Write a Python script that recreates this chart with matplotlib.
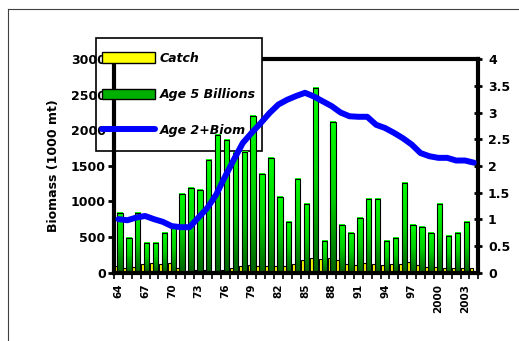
import numpy as np
import matplotlib
matplotlib.use('Agg')
import matplotlib.pyplot as plt
from matplotlib.patches import Patch, Rectangle
from matplotlib.lines import Line2D
from matplotlib.colors import LinearSegmentedColormap


years = list(range(1964, 2005))

catch = [90, 70, 80, 120, 140, 120, 140, 70, 20, 40,
         40, 25, 40, 60, 90, 100, 85, 85, 85, 85,
         120, 170, 200, 185, 200, 170, 120, 100, 140, 120,
         110, 120, 120, 150, 110, 80, 80, 70, 70, 60,
         60]

age5 = [840, 490, 840, 420, 420, 550, 650, 1100, 1190, 1160,
        1580, 1940, 1870, 1680, 1700, 2200, 1390, 1610, 1060, 710,
        1320, 970, 2600, 450, 2120, 670, 550, 770, 1030, 1030,
        450, 480, 1260, 670, 640, 550, 970, 510, 550, 710,
        0]

age2_biom = [1.00, 0.98, 1.03, 1.06, 1.00, 0.95, 0.87, 0.85, 0.85, 1.03,
             1.21, 1.46, 1.80, 2.12, 2.43, 2.62, 2.80, 2.99, 3.15, 3.24,
             3.31, 3.37, 3.30, 3.21, 3.12, 3.00, 2.93, 2.92, 2.92, 2.77,
             2.71, 2.62, 2.52, 2.40, 2.24, 2.18, 2.15, 2.15, 2.10, 2.10,
             2.06]

labels = ['Catch', 'Age 5 Billions', 'Age 2+Biom']

W, H = 519, 341
fig = plt.figure(figsize=(W / 100, H / 100), dpi=100)

# thin frame round the chart area (only left and top edges fall inside the image)
fig.lines.append(Line2D([8 / W, 8 / W], [0, 1 - 9 / H], transform=fig.transFigure,
                        color='#404040', lw=0.8))
fig.lines.append(Line2D([8 / W, 1], [1 - 9 / H, 1 - 9 / H], transform=fig.transFigure,
                        color='#404040', lw=0.8))

ax = fig.add_axes([114 / W, 1 - 272.5 / H, (478.3 - 114) / W, (272.5 - 59.2) / H])
ax2 = ax.twinx()

x = np.arange(len(years))

# catch on the left of each category, age 5 bars to the right of it
ax.bar(x - 0.47, catch, width=0.33, align='edge', color='#FFFF00',
       edgecolor='black', lw=0.8, zorder=1.2)
green_bars = ax.bar(x - 0.14, age5, width=0.61, align='edge', facecolor='none',
                    edgecolor='black', lw=0.8, zorder=1.2)

greens = LinearSegmentedColormap.from_list('greens', ['#006400', '#00D000', '#00FF00'])
grad = np.linspace(0, 1, 64).reshape(-1, 1)
for b in green_bars:
    if b.get_height() <= 0:
        continue
    ax.imshow(grad, extent=[b.get_x(), b.get_x() + b.get_width(), 0, b.get_height()],
              origin='lower', aspect='auto', cmap=greens, zorder=1.1, interpolation='bilinear')

ax2.plot(x, age2_biom, color='#0000FF', lw=4.3, solid_capstyle='round', zorder=3)

ax.set_xlim(-0.5, len(years) - 0.5)
ax.set_ylim(0, 3000)
ax2.set_ylim(0, 4)

tick_idx = x[::3]
ax.set_xticks(tick_idx)
ax.set_xticklabels([str(years[i] % 100) if years[i] < 2000 else str(years[i]) for i in tick_idx],
                   rotation=90, fontsize=7.5, fontweight='bold')
ax.set_xticks(np.arange(-0.5, len(years)), minor=True)
ax.tick_params(axis='x', which='major', length=0, pad=8)
ax.tick_params(axis='x', which='minor', length=4, width=1.2, direction='out')

ax.set_yticks(np.arange(0, 3001, 500))
ax.set_yticklabels([str(v) for v in range(0, 3001, 500)], fontsize=9, fontweight='bold')
ax.tick_params(axis='y', length=4, width=2, direction='out', pad=2)
ax.set_ylabel('Biomass (1000 mt)', fontsize=9, fontweight='bold', labelpad=8)

ax2.set_yticks(np.arange(0, 4.01, 0.5))
ax2.set_yticklabels(['%g' % v for v in np.arange(0, 4.01, 0.5)], fontsize=9, fontweight='bold')
ax2.tick_params(axis='y', length=6, width=2, direction='inout', pad=4)

for name in ['left', 'bottom', 'top']:
    ax.spines[name].set_linewidth(3)
ax.spines['top'].set_zorder(0.4)
ax.spines['right'].set_visible(False)
for name in ['left', 'bottom', 'top']:
    ax2.spines[name].set_visible(False)
ax2.spines['right'].set_linewidth(3)

# legend box: white, sits over the top border but under the bars
box = Rectangle((96 / W, 1 - 151 / H), 166 / W, 113 / H, transform=fig.transFigure,
                facecolor='white', edgecolor='black', lw=1.2, zorder=0.5, clip_on=False)
ax.add_patch(box)

handles = [Patch(facecolor='#FFFF00', edgecolor='black', lw=1),
           Patch(facecolor='#00B000', edgecolor='black', lw=1),
           Line2D([], [], color='#0000FF', lw=4.3, solid_capstyle='round')]
leg = ax.legend(handles, labels, loc='center', bbox_to_anchor=(96 / W, 1 - 151 / H, 166 / W, 113 / H),
                bbox_transform=fig.transFigure, frameon=False, borderpad=0, borderaxespad=0,
                handlelength=4.2, handleheight=0.9, handletextpad=0.4, labelspacing=1.85,
                prop={'size': 9, 'weight': 'bold', 'style': 'italic'})
leg.set_zorder(3)

fig.savefig('out.png', dpi=100)
